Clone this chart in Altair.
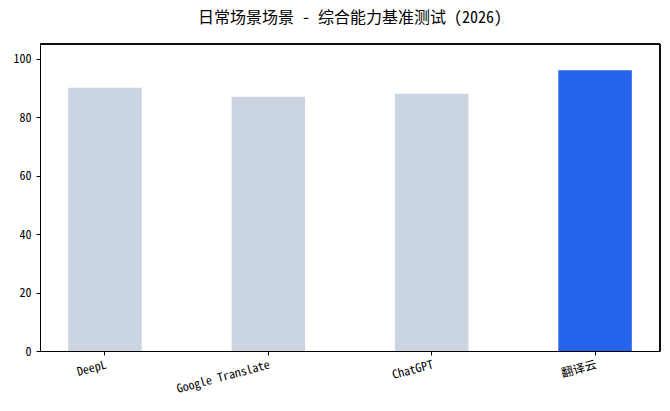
import altair as alt
import pandas as pd

categories = ["DeepL", "Google Translate", "ChatGPT", "翻译云"]
scores = [90, 87, 88, 96]
colors = ["#cbd5e1", "#cbd5e1", "#cbd5e1", "#2563eb"]
y_ticks = [0, 20, 40, 60, 80, 100]

df = pd.DataFrame({"tool": categories, "score": scores, "color": colors})

FONT = "Noto Sans Mono CJK SC, Noto Sans CJK SC, sans-serif"

bars = (
    alt.Chart(df)
    .mark_bar()
    .encode(
        x=alt.X(
            "tool:N",
            sort=categories,
            title=None,
            scale=alt.Scale(paddingInner=0.55, paddingOuter=0.1725),
            axis=alt.Axis(
                labelAngle=-15,
                labelAlign="right",
                labelBaseline="top",
                labelFontSize=12,
                labelColor="#000000",
                labelPadding=4,
                tickColor="#000000",
                tickSize=4,
                domainColor="#000000",
                labelFont=FONT,
            ),
        ),
        y=alt.Y(
            "score:Q",
            title=None,
            scale=alt.Scale(domain=[0, 105], nice=False),
            axis=alt.Axis(
                values=y_ticks,
                grid=False,
                labelFontSize=12,
                labelColor="#000000",
                labelPadding=5,
                tickColor="#000000",
                tickSize=4,
                domainColor="#000000",
                labelFont=FONT,
            ),
        ),
        color=alt.Color("color:N", scale=None, legend=None),
    )
)

top_line = alt.Chart(df).mark_rule(color="#000000", strokeWidth=1).encode(
    x=alt.value(0), x2=alt.value(620), y=alt.value(0)
)
right_line = alt.Chart(df).mark_rule(color="#000000", strokeWidth=1).encode(
    x=alt.value(620), y=alt.value(0), y2=alt.value(307)
)

chart = (
    alt.layer(bars, top_line, right_line)
    .properties(
        width=620,
        height=307,
        title=alt.TitleParams(
            "日常场景场景 - 综合能力基准测试 (2026)",
            fontSize=16,
            fontWeight="normal",
            font=FONT,
            color="#000000",
            anchor="middle",
            offset=18,
        ),
        autosize=alt.AutoSizeParams(type="none"),
        padding={"left": 32, "top": 36, "right": 2, "bottom": 52},
    )
    .configure_view(stroke="#000000", strokeWidth=1)
    .configure(background="#ffffff")
)

chart.save("out.html", embed_options={"renderer": "svg", "actions": False})
